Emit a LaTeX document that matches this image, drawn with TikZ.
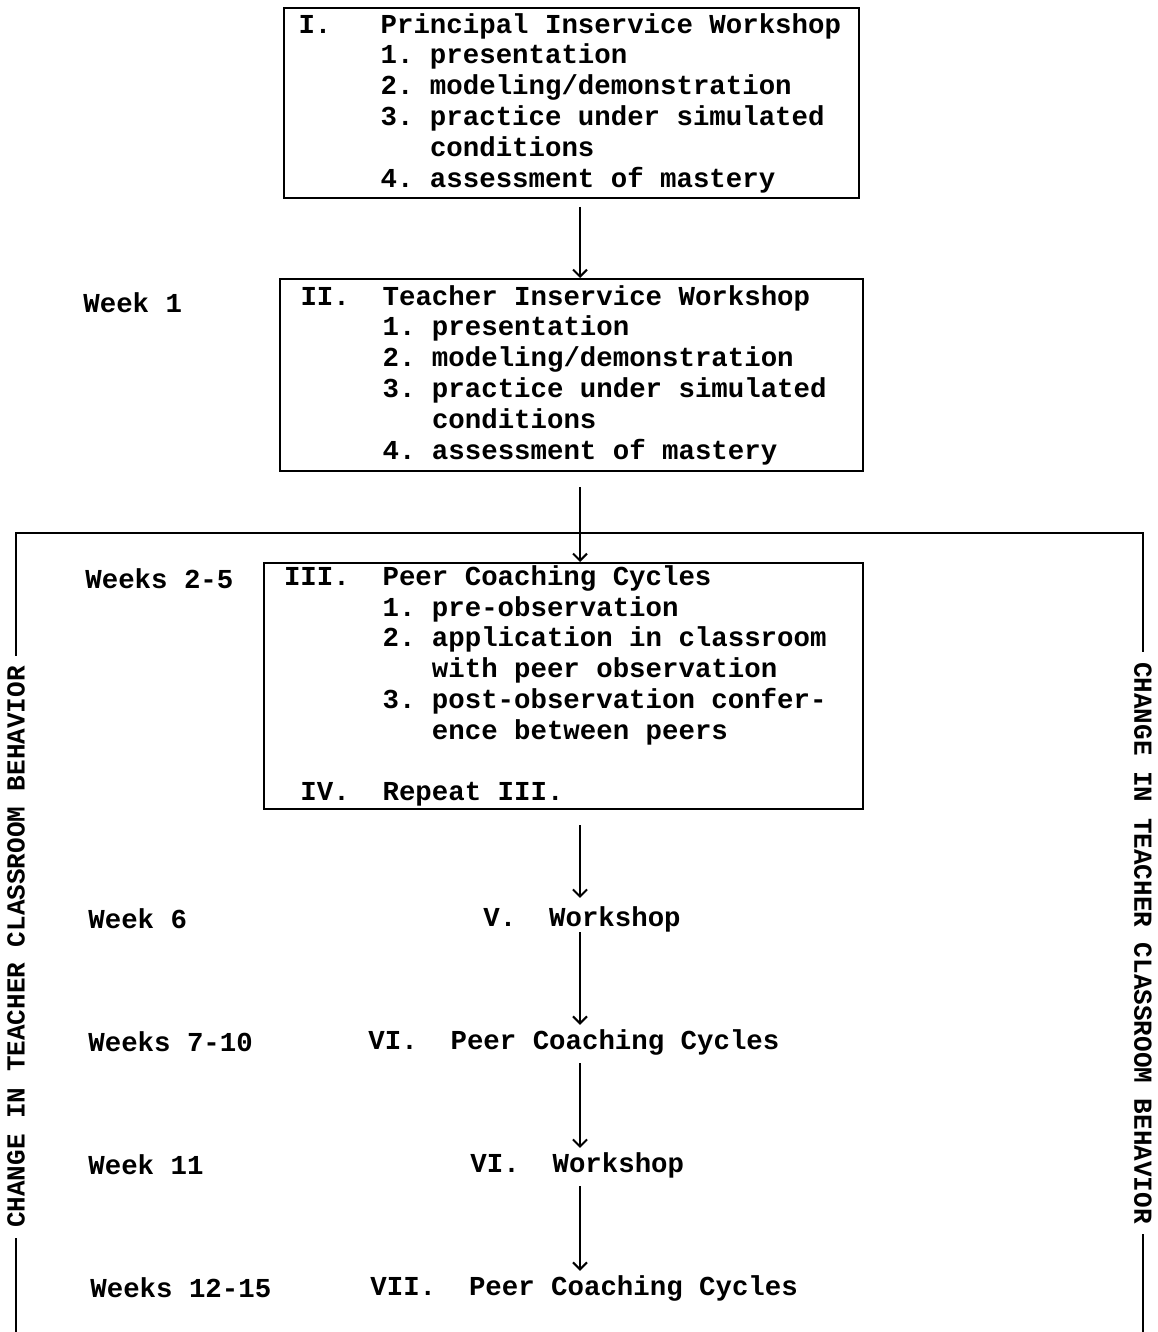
\documentclass[tikz,border=0pt]{standalone}
\usepackage{fontspec}
\setmainfont{Liberation Mono}[WordSpace={1,0,0}]
\usepackage{tikz}
\usetikzlibrary{arrows.meta}
\tikzset{
  cc/box/.style={draw, line width=1pt, align=left, anchor=north west, inner ysep=0pt,
    execute at begin node={\spaceskip=0.6em\relax\xspaceskip=0.6em\relax}},
  cc/txt/.style={inner sep=0pt, anchor=west},
  cc/side/.style={inner xsep=5pt, inner ysep=0pt, font=\bfseries\fontsize{13}{15}\selectfont},
  cc/flow/.style={line width=1pt, -{Straight Barb[length=3.5pt,width=7pt]}},
  cc/rule/.style={line width=1pt}
}
\newcommand{\hd}[2][3em]{\makebox[#1][l]{#2}}
\newcommand{\stp}[2][3em]{\hspace*{#1}\makebox[1.8em][l]{#2}}

\begin{document}
\begin{tikzpicture}[x=0.5pt, y=-0.5pt, font=\bfseries\fontsize{13.7}{15.4}\selectfont]
\useasboundingbox (0,0) rectangle (1157,1332);

% workshops and coaching boxes
\node[cc/box, text width=273pt, inner xsep=7.25pt, minimum height=95pt] (wsI) at (283,7) {%
  \hd{I.}Principal Inservice Workshop\\
  \stp{1.}presentation\\
  \stp{2.}modeling/demonstration\\
  \stp{3.}practice under simulated\\
  \stp{}conditions\\
  \stp{4.}assessment of mastery};

\node[cc/box, text width=271pt, inner xsep=10.25pt, minimum height=96pt] (wsII) at (279,278) {%
  \hd{II.}Teacher Inservice Workshop\\
  \stp{1.}presentation\\
  \stp{2.}modeling/demonstration\\
  \stp{3.}practice under simulated\\
  \stp{}conditions\\
  \stp{4.}assessment of mastery};

\node[cc/box, text width=279.5pt, inner xsep=10pt, minimum height=123pt] (wsIII) at (263,562) {%
  \hd[3.6em]{III.}Peer Coaching Cycles\\
  \stp[3.6em]{1.}pre-observation\\
  \stp[3.6em]{2.}application in classroom\\
  \stp[3.6em]{}with peer observation\\
  \stp[3.6em]{3.}post-observation confer-\\
  \stp[3.6em]{}ence between peers\\[\baselineskip]
  \hspace*{0.6em}\hd{IV.}Repeat III.};

\node[cc/txt] (wsV) at (483,919) {\hd[2.4em]{V.}Workshop};
\node[cc/txt] (pcVI) at (368,1042) {\hd{VI.}Peer Coaching Cycles};
\node[cc/txt] (wsVI) at (470,1165) {\hd{VI.}Workshop};
\node[cc/txt] (pcVII) at (370,1288) {\hd[3.6em]{VII.}Peer Coaching Cycles};

% weeks
\node[cc/txt] (wk1) at (83,303) {Week 1};
\node[cc/txt] (wk2) at (85,579) {Weeks 2-5};
\node[cc/txt] (wk6) at (88,919) {Week 6};
\node[cc/txt] (wk7) at (88,1042) {Weeks 7-10};
\node[cc/txt] (wk11) at (88,1165) {Week 11};
\node[cc/txt] (wk12) at (90,1288) {Weeks 12-15};

% flow
\coordinate (spine) at (580,0);
\draw[cc/flow, shorten <=4pt] (wsI.south -| spine) -- (wsII.north -| spine);
\draw[cc/flow, shorten <=7.5pt] (wsII.south -| spine) -- (wsIII.north -| spine);
\draw[cc/flow, shorten <=7.5pt, shorten >=4pt] (wsIII.south -| spine) -- (wsV.north -| spine);
\draw[cc/flow, shorten >=2pt] (wsV.south -| spine) -- (pcVI.north -| spine);
\draw[cc/flow, shorten <=4pt, shorten >=2pt] (pcVI.south -| spine) -- (wsVI.north -| spine);
\draw[cc/flow, shorten <=4pt, shorten >=2pt] (wsVI.south -| spine) -- (pcVII.north -| spine);

% change bracket
\coordinate (bktL) at (16,533);
\coordinate (bktR) at (1143,533);
\coordinate (btm) at (0,1332);
\node[cc/side, rotate=90] (chgL) at (16,947) {CHANGE IN TEACHER CLASSROOM BEHAVIOR};
\node[cc/side, rotate=-90] (chgR) at (1143,943) {CHANGE IN TEACHER CLASSROOM BEHAVIOR};
\draw[cc/rule] (chgL.east) -- (bktL) -- (bktR) -- (chgR.west);
\draw[cc/rule] (chgL.west) -- (chgL.west |- btm);
\draw[cc/rule] (chgR.east) -- (chgR.east |- btm);
\end{tikzpicture}
\end{document}
